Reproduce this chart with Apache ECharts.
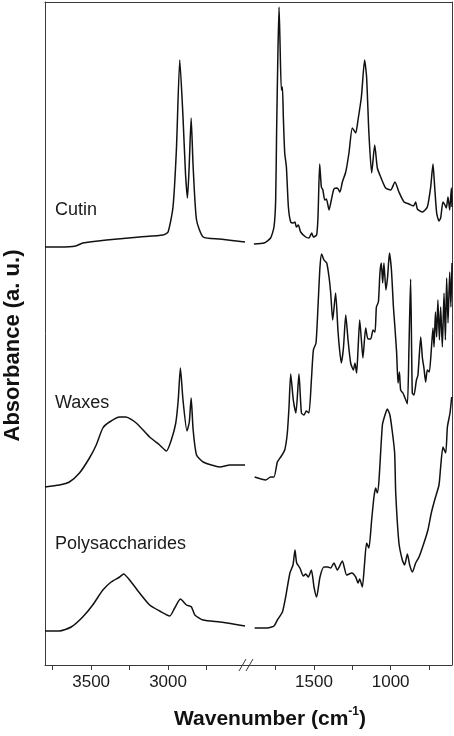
<!doctype html>
<html lang="en">
<head>
<meta charset="utf-8">
<title>FTIR spectra - cuticle fractions</title>
<script src="https://cdn.jsdelivr.net/npm/echarts@6/dist/echarts.min.js"></script>
<style>
  html, body { margin: 0; padding: 0; background: #fff; }
  #main { width: 454px; height: 736px; }
</style>
</head>
<body>
<div id="main"></div>
<script type="text/javascript">
// spectra as [wavenumber, absorbance (offset, a.u.)], split at the axis break
var cutinHigh = [[3800,4.18],[3700,4.18],[3600,4.19],[3555,4.22],[3400,4.25],[3185,4.28],[3033,4.30],[3000,4.33],[2968,4.58],[2946,5.15],[2924,6.05],[2903,5.48],[2887,4.92],[2874,4.67],[2863,4.98],[2850,5.47],[2837,4.98],[2815,4.45],[2772,4.28],[2663,4.26],[2500,4.23]];
var cutinLow = [[1892,4.21],[1826,4.22],[1783,4.27],[1761,4.38],[1750,4.65],[1744,5.32],[1735,6.15],[1728,6.58],[1722,6.25],[1713,5.75],[1706,5.78],[1700,5.48],[1691,5.12],[1680,4.98],[1667,4.58],[1652,4.43],[1635,4.42],[1624,4.43],[1615,4.38],[1602,4.40],[1587,4.33],[1554,4.28],[1533,4.27],[1515,4.32],[1504,4.28],[1483,4.30],[1474,4.48],[1463,5.01],[1452,4.78],[1442,4.75],[1430,4.65],[1419,4.66],[1402,4.55],[1387,4.65],[1370,4.76],[1348,4.77],[1331,4.73],[1315,4.83],[1293,4.93],[1272,5.12],[1250,5.37],[1228,5.32],[1213,5.45],[1191,5.68],[1170,6.05],[1157,5.88],[1142,5.32],[1124,4.92],[1104,5.20],[1087,4.97],[1065,4.88],[1033,4.77],[1000,4.75],[972,4.83],[946,4.73],[913,4.63],[881,4.61],[852,4.59],[837,4.63],[826,4.56],[793,4.53],[761,4.58],[739,4.78],[724,5.01],[713,4.78],[700,4.52],[685,4.44],[674,4.47],[659,4.63],[646,4.60],[637,4.57],[626,4.68],[615,4.55],[604,4.77],[600,4.58]];

var waxesHigh = [[3800,1.78],[3707,1.80],[3642,1.83],[3576,1.92],[3511,2.07],[3467,2.20],[3424,2.37],[3381,2.43],[3315,2.48],[3274,2.48],[3207,2.42],[3120,2.28],[3055,2.20],[3011,2.14],[2979,2.25],[2950,2.42],[2934,2.65],[2920,2.97],[2903,2.65],[2877,2.34],[2862,2.43],[2850,2.67],[2837,2.35],[2815,2.10],[2772,2.03],[2663,1.98],[2598,2.00],[2500,2.00]];
var waxesLow = [[1887,1.88],[1815,1.85],[1783,1.88],[1761,1.88],[1739,2.03],[1717,2.08],[1691,2.15],[1674,2.32],[1663,2.58],[1652,2.91],[1635,2.65],[1618,2.52],[1598,2.91],[1582,2.52],[1565,2.50],[1550,2.54],[1533,2.52],[1517,2.85],[1504,3.15],[1487,3.22],[1474,3.58],[1461,3.98],[1450,4.11],[1435,4.05],[1417,4.02],[1402,3.88],[1391,3.72],[1378,3.45],[1359,3.72],[1344,3.35],[1333,3.15],[1322,3.02],[1308,3.17],[1293,3.50],[1278,3.25],[1261,3.02],[1243,2.95],[1233,3.02],[1222,2.92],[1213,3.15],[1202,3.45],[1191,3.25],[1181,3.07],[1163,3.37],[1148,3.26],[1130,3.26],[1115,3.35],[1102,3.33],[1093,3.58],[1080,3.63],[1070,3.92],[1061,4.02],[1052,3.82],[1044,4.02],[1031,3.75],[1020,3.88],[1008,4.12],[995,3.95],[982,3.58],[972,3.37],[961,3.12],[952,2.82],[943,2.93],[935,2.75],[920,2.72],[909,2.68],[891,2.61],[881,3.15],[870,3.86],[859,2.72],[848,2.70],[832,2.85],[822,2.90],[804,3.28],[793,3.07],[783,2.97],[772,2.83],[761,2.95],[748,2.93],[735,3.15],[724,3.37],[717,3.18],[708,3.53],[700,3.28],[692,3.65],[682,3.25],[674,3.58],[663,3.18],[652,3.72],[643,3.25],[635,3.87],[626,3.42],[615,3.93],[607,3.58],[600,4.02]];

var polyHigh = [[3800,0.34],[3707,0.34],[3630,0.38],[3555,0.48],[3490,0.60],[3424,0.75],[3370,0.83],[3315,0.88],[3289,0.91],[3250,0.85],[3185,0.72],[3120,0.60],[3055,0.54],[2989,0.49],[2957,0.57],[2920,0.66],[2880,0.60],[2848,0.58],[2826,0.50],[2772,0.45],[2663,0.43],[2577,0.41],[2500,0.39]];
var polyLow = [[1887,0.37],[1804,0.37],[1761,0.39],[1739,0.45],[1706,0.53],[1685,0.68],[1657,0.92],[1637,1.00],[1624,1.15],[1613,1.02],[1592,0.97],[1569,0.89],[1554,0.91],[1537,0.88],[1517,0.95],[1500,0.78],[1483,0.68],[1461,0.88],[1435,0.98],[1409,0.98],[1391,0.97],[1370,1.02],[1348,0.95],[1315,1.04],[1287,0.90],[1254,0.92],[1228,0.88],[1213,0.82],[1202,0.86],[1185,0.78],[1170,1.02],[1157,1.22],[1142,1.17],[1124,1.45],[1109,1.68],[1098,1.77],[1087,1.72],[1076,1.85],[1054,2.40],[1039,2.49],[1022,2.56],[1005,2.50],[989,2.33],[974,2.12],[967,1.72],[946,1.22],[924,1.05],[909,1.00],[891,1.11],[876,1.00],[858,0.93],[837,1.02],[815,1.08],[783,1.22],[757,1.35],[735,1.52],[713,1.65],[685,1.80],[674,1.98],[659,2.18],[641,2.12],[630,2.38],[613,2.52],[602,2.68]];

var sampleNames = ['Cutin', 'Waxes', 'Polysaccharides'];
var sampleLabelY = [210, 403, 544];
var highTicks = [3750, 3500, 3250, 3000, 2750];
var highLabels = [3500, 3000];
var lowTicks = [1750, 1500, 1250, 1000, 750];
var lowLabels = [1500, 1000];

var chart = echarts.init(document.getElementById('main'));

var font = 'Arial, "Liberation Sans", sans-serif';
var ink = '#111';
var frame = '#3a3a3a';

function bottomAxis(grid, min, max, ticks, labels) {
    return {
        type: 'value', gridIndex: grid, position: 'bottom', inverse: true,
        min: min, max: max,
        axisLine: { show: true, onZero: false, lineStyle: { color: frame, width: 1 } },
        axisTick: { show: true, inside: false, length: 5, customValues: ticks, lineStyle: { color: frame } },
        axisLabel: {
            show: true, customValues: labels, margin: 9, color: '#1a1a1a', fontSize: 17, fontFamily: font,
            formatter: function (v) { return String(v); }
        },
        splitLine: { show: false }
    };
}
function topAxis(grid, min, max) {
    return {
        type: 'value', gridIndex: grid, position: 'top', inverse: true,
        min: min, max: max,
        axisLine: { show: true, onZero: false, lineStyle: { color: frame, width: 1 } },
        axisTick: { show: false }, axisLabel: { show: false }, splitLine: { show: false }
    };
}
function spectrum(data, axis) {
    return {
        type: 'line', data: data, xAxisIndex: axis, yAxisIndex: axis,
        showSymbol: false, smooth: 0.2, silent: true,
        lineStyle: { color: ink, width: 1.5 }
    };
}

var series = [];
[[cutinHigh, cutinLow], [waxesHigh, waxesLow], [polyHigh, polyLow]].forEach(function (s) {
    series.push(spectrum(s[0], 0));
    series.push(spectrum(s[1], 1));
});

var graphics = sampleNames.map(function (name, i) {
    return {
        type: 'text', x: 55, y: sampleLabelY[i],
        style: { text: name, fontSize: 18, fontFamily: font, fill: '#1a1a1a', verticalAlign: 'middle' }
    };
});
// axis break marks
graphics.push({ type: 'rect', shape: { x: 241, y: 662, width: 12, height: 5 }, style: { fill: '#fff' } });
graphics.push({ type: 'line', shape: { x1: 239, y1: 671, x2: 246, y2: 659 }, style: { stroke: frame, lineWidth: 1 } });
graphics.push({ type: 'line', shape: { x1: 246, y1: 671, x2: 253, y2: 659 }, style: { stroke: frame, lineWidth: 1 } });
// x axis title with superscript
graphics.push({
    type: 'text', x: 270, y: 719,
    style: {
        text: '{a|Wavenumber (cm}{s|-1}{a|)}', align: 'center', verticalAlign: 'middle',
        rich: {
            a: { fontSize: 21, fontWeight: 'bold', fontFamily: font, fill: '#111', lineHeight: 26 },
            s: { fontSize: 12, fontWeight: 'bold', fontFamily: font, fill: '#111', verticalAlign: 'top', lineHeight: 26 }
        }
    }
});

var option = {
    animation: false,
    grid: [
        { left: 45, top: 2, width: 200, height: 663 },
        { left: 245, top: 2, width: 207, height: 663 }
    ],
    xAxis: [
        bottomAxis(0, 2500, 3800, highTicks, highLabels),
        bottomAxis(1, 600, 1950, lowTicks, lowLabels),
        topAxis(0, 2500, 3800),
        topAxis(1, 600, 1950)
    ],
    yAxis: [
        {
            type: 'value', gridIndex: 0, min: 0, max: 6.63,
            axisLine: { show: true, lineStyle: { color: frame, width: 1 } },
            axisTick: { show: false }, axisLabel: { show: false }, splitLine: { show: false },
            name: 'Absorbance (a. u.)', nameLocation: 'middle', nameRotate: 90, nameGap: 21,
            nameTextStyle: { fontSize: 22, fontWeight: 'bold', fontFamily: font, color: '#111', padding: [0, 24, 0, 0] }
        },
        {
            type: 'value', gridIndex: 1, position: 'right', min: 0, max: 6.63,
            axisLine: { show: true, lineStyle: { color: frame, width: 1 } },
            axisTick: { show: false }, axisLabel: { show: false }, splitLine: { show: false }
        }
    ],
    series: series,
    graphic: graphics
};

chart.setOption(option);
</script>
</body>
</html>
